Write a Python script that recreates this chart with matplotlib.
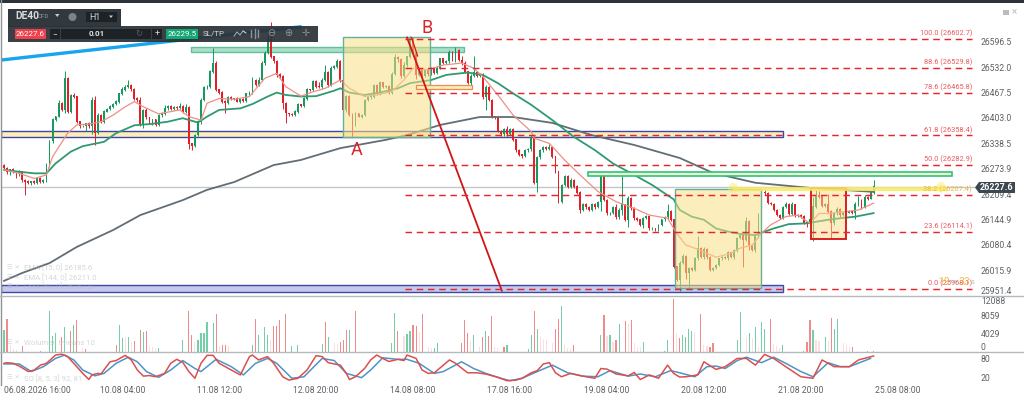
import numpy as np
import matplotlib
matplotlib.use("Agg")
import matplotlib.pyplot as plt
from matplotlib.patches import Rectangle, Circle, Polygon

plt.rcParams["font.family"] = ["Roboto", "DejaVu Sans"]

# hourly closes
closes = [
    26275,26266,26271,26266,26262,26266,26245,26241,26237,26241,26238,26249,26241,26245,26283,26343,26398,26406,26440,26423,
    26502,26419,26461,26457,26393,26381,26382,26389,26381,26448,26364,26410,26393,26419,26425,26431,26438,26444,26464,26474,
    26481,26486,26475,26452,26448,26385,26423,26404,26391,26398,26385,26410,26413,26427,26431,26425,26430,26427,26433,26419,
    26430,26337,26332,26359,26393,26448,26481,26481,26520,26542,26474,26467,26444,26440,26455,26450,26452,26444,26450,26446,
    26464,26467,26498,26486,26499,26542,26567,26605,26558,26546,26512,26508,26440,26414,26412,26410,26419,26436,26433,26452,
    26475,26474,26495,26482,26481,26499,26518,26486,26529,26533,26546,26499,26423,26457,26410,26385,26414,26406,26410,26448,
    26455,26457,26486,26465,26492,26481,26484,26467,26514,26557,26552,26508,26537,26558,26605,26567,26512,26525,26509,26523,
    26514,26529,26518,26529,26553,26543,26546,26569,26548,26574,26550,26542,26520,26491,26509,26518,26509,26514,26457,26481,
    26448,26406,26404,26368,26361,26374,26362,26374,26347,26321,26309,26306,26320,26323,26354,26238,26303,26320,26328,26323,
    26328,26304,26266,26190,26232,26254,26228,26245,26228,26213,26169,26184,26176,26169,26184,26176,26188,26254,26194,26161,
    26161,26176,26150,26169,26182,26144,26199,26173,26148,26144,26131,26148,26152,26122,26122,26118,26131,26145,26150,26165,
    26144,26025,25991,26034,26052,26008,26021,26017,26046,26072,26050,26069,26049,26017,26021,26029,26046,26049,26046,26061,
    26049,26066,26097,26105,26093,26139,26080,26067,26103,26144,26213,26211,26186,26184,26169,26156,26149,26176,26184,26158,
    26182,26154,26156,26152,26137,26133,26144,26177,26207,26203,26179,26184,26165,26135,26160,26171,26156,26162,26162,26165,
    26162,26182,26194,26175,26201,26198,26213,26227.6]
wick_up = [
    3,4,2,5,3,4,2,3,4,2,3,2,4,3,4,3,5,2,8,3,
    19,4,3,6,2,3,4,2,3,8,10,4,3,3,2,5,3,4,3,6,
    5,12,3,4,3,8,3,4,2,3,2,3,4,8,5,4,3,2,8,2,
    9,3,2,3,4,6,3,5,4,38,4,2,5,3,3,4,2,3,2,4,
    3,5,8,3,8,5,6,8,42,3,4,6,3,2,2,3,4,5,3,3,
    4,2,5,3,12,5,20,4,5,3,6,4,5,4,3,5,3,2,3,4,
    3,2,4,2,5,2,3,3,6,8,3,4,8,3,6,3,5,4,3,4,
    3,2,4,5,3,2,3,6,4,8,3,9,4,3,5,42,3,4,3,5,
    3,4,2,3,5,4,8,3,2,3,2,2,3,3,6,4,3,5,3,4,
    8,3,3,2,4,5,3,4,2,4,3,3,2,4,3,3,4,5,3,2,
    4,2,8,4,72,3,6,3,3,2,3,2,4,3,3,2,3,2,3,18,
    4,3,2,6,4,3,3,4,3,30,4,6,3,3,2,3,2,4,3,3,
    2,4,3,4,3,12,4,3,6,16,4,8,3,3,2,2,3,4,6,3,
    8,2,3,2,3,2,4,25,12,10,3,2,25,3,4,5,3,2,2,3,
    3,8,10,3,6,4,3,17]
wick_dn = [
    4,5,8,3,12,6,4,34,3,5,4,2,3,3,4,5,3,3,2,3,
    8,3,4,3,3,5,2,12,3,20,30,3,2,3,2,3,4,2,3,2,
    3,2,4,3,5,3,8,4,3,6,2,3,4,2,3,2,3,4,2,3,
    4,12,12,3,3,5,3,4,3,3,4,3,3,25,3,2,3,2,3,3,
    2,4,3,3,2,3,5,3,4,3,5,4,15,25,4,3,2,5,3,3,
    3,4,3,4,3,4,3,5,3,2,3,4,6,5,3,30,3,2,3,3,
    2,3,3,4,3,2,3,4,3,3,8,3,2,4,3,3,10,3,4,3,
    5,3,4,3,2,3,3,4,2,3,3,4,3,3,10,3,2,3,5,34,
    3,3,4,2,3,3,4,2,3,4,3,4,3,3,4,3,23,4,3,3,
    3,3,4,3,3,2,3,3,3,4,8,3,4,3,3,4,2,22,3,4,
    5,3,4,3,13,3,18,3,5,3,3,8,3,4,3,2,3,2,3,4,
    3,4,3,28,3,15,38,3,4,3,3,5,4,3,3,2,3,3,2,3,
    3,4,3,3,68,3,12,3,4,5,6,4,3,3,2,3,3,4,3,3,
    2,3,4,3,3,8,3,55,3,3,2,3,3,38,3,3,4,3,2,2,
    3,15,3,3,2,3,2,3]
first_open = 26283

# moving averages, (bar, price)
ema15_bars = [0,5,10,14,16,21,24,28,32,36,40,43,46,51,58,61,65,67,71,76,81,86,90,93,98,102,106,111,114,119,123,128,132,135,140,145,151,155,158,163,168,174,175,180,185,189,196,202,208,213,219,222,225,228,232,235,240,243,247,250,253,258,262,266,269,272,278,282,287]
ema15_vals = [26271,26262,26249,26258,26304,26364,26385,26387,26393,26410,26431,26444,26431,26413,26423,26406,26397,26440,26452,26450,26457,26503,26516,26482,26458,26469,26478,26499,26478,26457,26461,26470,26499,26529,26525,26537,26542,26529,26508,26461,26410,26368,26351,26338,26296,26266,26216,26190,26173,26156,26148,26110,26080,26072,26059,26049,26059,26072,26080,26110,26131,26152,26156,26135,26160,26160,26165,26169,26186]
ema50_bars = [0,5,10,14,17,22,26,33,37,43,48,54,59,64,67,71,78,82,87,90,93,98,103,109,111,114,119,124,130,134,141,146,153,158,163,168,174,181,188,195,201,208,214,221,223,227,231,235,239,243,248,251,254,259,265,268,272,276,281,287]
ema50_vals = [26271,26266,26262,26262,26287,26317,26331,26342,26364,26384,26387,26393,26402,26391,26406,26423,26427,26438,26457,26467,26461,26457,26458,26472,26478,26467,26461,26467,26478,26491,26499,26512,26518,26512,26491,26465,26436,26397,26355,26321,26287,26258,26232,26196,26169,26152,26144,26122,26114,26108,26105,26114,26122,26133,26135,26139,26144,26148,26152,26161]
ema144_bars = [0,6,15,24,36,45,59,67,76,89,98,111,126,133,144,157,168,181,194,208,223,234,248,266,287]
ema144_vals = [25989,26009,26034,26075,26118,26156,26194,26220,26240,26283,26296,26326,26347,26359,26385,26405,26405,26390,26359,26334,26301,26263,26238,26225,26215]

# volume
vol_up_bars = [0,15,16,17,20,23,38,39,41,46,51,59,64,65,66,67,69,82,84,86,87,95,97,105,107,114,128,129,133,134,142,143,155,159,166,173,174,176,184,197,200,203,211,219,224,225,226,227,242,243,246,248,250,251,257,264,267,271,274,275,285,287]
vol_up = [4844,9028,3523,4110,5578,5945,5872,3083,3376,4477,954,2642,2642,4110,4110,6679,6312,1541,3743,5432,3743,1321,1541,1762,3230,4844,2055,8514,3890,4624,807,1908,3743,4624,1615,587,3743,5065,10129,3670,3670,6166,2275,2642,3743,3376,4991,4698,2642,8881,4110,5578,6606,5138,1615,294,4844,3376,4991,7266,147,147]
vol_down_bars = [1,6,12,19,22,24,27,37,43,45,47,61,62,70,72,73,83,89,90,91,93,106,111,112,113,116,130,135,136,138,151,152,153,158,160,161,165,175,182,183,188,198,202,205,207,218,221,223,230,233,234,253,265,266,273,280]
vol_down = [7266,1321,294,3376,4624,7046,661,1541,2422,4771,4624,9028,3743,8294,1541,1541,7266,5725,5725,7046,8441,6679,2129,2642,4844,9028,4624,5945,5725,8294,1908,7046,4110,3303,3523,7927,1028,9028,5065,7266,1468,8074,2642,6826,7120,294,11597,3009,8368,1174,1908,7266,2202,7046,7413,1028]
vol_pale_bars = [2,3,4,26,40,42,48,49,50,63,71,74,88,109,110,132,137,140,141,154,157,162,163,177,178,179,181,185,186,187,199,201,206,208,209,210,222,228,231,232,245,247,249,254,255,256,268,269,272,277,278,279]
vol_pale = [1541,587,440,807,3376,2275,1321,1028,807,2275,1321,1321,2642,2055,1762,3523,4477,1174,807,2496,1174,1174,954,3376,2789,2642,2055,1468,954,587,3597,2275,6166,2055,1174,1028,4110,4331,1541,1321,3376,3009,1174,1762,1321,954,2642,2496,2496,2055,1541,1174]

# stochastic
so_fast_bars = [0,1,3,5,8,10,12,14,17,19,21,23,26,28,29,31,32,35,37,40,42,44,46,48,50,53,55,57,59,61,63,65,67,69,71,75,78,81,82,84,87,89,92,94,97,100,103,105,107,109,111,113,114,116,119,121,123,125,127,130,132,133,136,138,140,142,145,147,149,153,156,159,163,166,169,171,174,176,178,180,182,184,187,191,195,197,199,202,206,208,210,213,216,219,221,223,225,229,231,235,238,242,245,248,251,254,258,263,267,270,274,277,279,282,287]
so_fast = [65,67,65,56,38,43,59,65,92,95,87,65,32,12,27,32,30,70,74,91,76,43,23,25,21,32,65,78,68,38,16,65,91,91,65,43,27,87,92,76,87,65,21,10,16,43,90,87,67,63,59,32,12,21,48,76,92,81,71,78,74,92,81,43,32,34,59,76,65,34,34,30,19,8,10,16,34,41,63,67,34,21,32,23,16,48,46,30,24,35,12,27,16,59,32,20,21,27,70,45,54,81,81,59,94,81,54,21,16,76,54,54,54,76,89]
so_slow_bars = [0,5,9,13,17,20,23,26,30,33,37,41,44,47,51,55,59,63,65,70,75,79,83,87,90,95,99,105,109,113,118,121,125,130,133,137,142,145,151,155,159,164,167,171,176,181,186,191,196,200,206,210,215,220,223,228,232,235,238,242,245,250,254,258,263,267,272,276,279,286]
so_slow = [63,63,38,54,81,92,76,43,24,32,65,85,70,38,19,43,74,48,38,78,54,27,65,81,65,16,21,81,74,32,18,43,83,78,78,65,32,38,70,48,32,16,8,16,38,59,34,23,21,41,23,30,21,41,34,21,54,56,48,74,85,67,85,65,38,21,67,54,54,81]

# drawings on the chart
fib_prices = [26602.7, 26529.8, 26465.8, 26358.4, 26282.9, 26207.4, 26114.1, 25968.1]
fib_labels = ["100.0 (26602.7)", "88.6 (26529.8)", "78.6 (26465.8)", "61.8 (26358.4)", "50.0 (26282.9)", "38.2 (26207.4)", "23.6 (26114.1)", "0.0 (25968.1)"]
current_price = 26227.6

price_ticks = [26596.5, 26532.0, 26467.5, 26403.0, 26338.5, 26273.9, 26209.4, 26144.9, 26080.4, 26015.9, 25951.4]
vol_ticks = [4029, 8059, 12088]
so_ticks = [20, 80]
time_ticks = [0, 39, 71, 103, 135, 167, 199, 231, 263, 295]
time_labels = ["06.08.2026 16:00", "10.08 04:00", "11.08 12:00", "12.08 20:00", "14.08 08:00", "17.08 16:00", "19.08 04:00", "20.08 12:00", "21.08 20:00", "25.08 08:00"]

W, H = 1024, 404
GREEN, RED = "#16995f", "#e2202a"
TXT = "#5c6166"
FAINT = "#b5b8bb"


def PaneAxes(fig_, top_, bottom_, left_=1, right_=976):
    return fig_.add_axes([left_ / W, 1 - bottom_ / H, (right_ - left_) / W, (bottom_ - top_) / H])


def AddZone(ax_, x0_, x1_, p0_, p1_, face_, edge_, lw_=1.0, alpha_=1.0, z_=3):
    ax_.add_patch(Rectangle((x0_, p0_), x1_ - x0_, p1_ - p0_, facecolor=matplotlib.colors.to_rgba(face_, alpha_), edgecolor=edge_, linewidth=lw_, zorder=z_, clip_on=True))


def AddFaintLabel(ax_, x_, y_, text_):
    ax_.text(x_ - 5.5, y_, "\u2630 \u2715", color=FAINT, fontsize=4.6, alpha=0.55, va="center", zorder=6)
    ax_.text(x_, y_, text_, color=FAINT, fontsize=5.6, alpha=0.55, va="center", zorder=6)


fig = plt.figure(figsize=(W / 100, H / 100), dpi=100, facecolor="white")
ax = PaneAxes(fig, 4, 296)
ax_vol = PaneAxes(fig, 296, 352)
ax_so = PaneAxes(fig, 352, 385)

bars = np.arange(len(closes))
closes_arr = np.array(closes, dtype=float)
opens = np.r_[first_open, closes_arr[:-1]]
highs = np.maximum(opens, closes_arr) + np.array(wick_up)
lows = np.minimum(opens, closes_arr) - np.array(wick_dn)
up = closes_arr >= opens
colors = np.where(up, GREEN, RED)

ax.vlines(bars, lows, highs, colors=colors, linewidth=0.7, zorder=2)
ax.bar(bars, np.abs(closes_arr - opens) + 1, bottom=np.minimum(opens, closes_arr), width=0.62, color=colors, linewidth=0, zorder=2)

ax.plot(ema144_bars, ema144_vals, color="#626d75", lw=1.3, zorder=2.5)
ax.plot(ema50_bars, ema50_vals, color="#2f9a70", lw=1.3, zorder=2.5)
ax.plot(ema15_bars, ema15_vals, color="#ee8f84", lw=0.9, zorder=2.5)

xl = (-1.0, 320.8)
ax.set_xlim(xl)
ax.set_ylim(25950.5, 26692)

# zones
AddZone(ax, xl[0], 257, 26354, 26370, "#fdeeb5", "#3f45b0", 1.0, z_=1.5)
AddZone(ax, xl[0], 257, 25960, 25978.5, "#c5caec", "#3f48a8", 1.0, z_=1.5)
AddZone(ax, 61.6, 151.8, 26571, 26583, "#a9dfc8", "#63c09c", 1.0, z_=1.6)
AddZone(ax, 192.7, 313, 26255, 26265.5, "#eef7cf", "#2ec27e", 1.2, z_=3)
AddZone(ax, 112, 140.6, 26355, 26607, "#fbdf86", "#62b299", 1.0, 0.55)
AddZone(ax, 221.5, 250, 25971, 26221.6, "#fbdf86", "#62b299", 1.0, 0.55)
AddZone(ax, 266.2, 277.8, 26094.6, 26225, "#fbdf86", "#d91f1f", 1.4, 0.5)
AddZone(ax, 135.9, 154.4, 26477, 26486.5, "#fdeeb5", "#ef8a5a", 0.9)

ax.axhline(current_price, color="#c3c7ca", lw=1.0, zorder=1)
ax.plot([240.6, 311.2], [26222, 26222], color="#f8ea62", lw=3, alpha=0.85, zorder=3, solid_capstyle="butt")

# trend lines
ax.plot([-0.66, 97.7], [26550, 26634], color="#17a6ee", lw=2.4, zorder=1.8)
ax.plot([133, 164.3], [26607, 25964], color="#cf1518", lw=1.3, zorder=4)
ax.plot([134.5, 136.5], [26607, 26560], color="#cf1518", lw=0.9, zorder=4)

for p, lab in zip(fib_prices, fib_labels):
    ax.plot([132.5, 319.5], [p, p], color="#e2272e", lw=1.05, dashes=(4.5, 3.2), zorder=4)
    lab_color = "#f0b43c" if lab.startswith("38.2") else "#ea5a60"
    ax.text(319.5, p + 3.5, lab, color=lab_color, fontsize=5.3, ha="right", va="bottom", zorder=5)

ax.text(116.5, 26320, "A", color="#d8262b", fontsize=13, ha="center", va="center", zorder=6)
ax.text(139.5, 26630, "B", color="#d8262b", fontsize=13, ha="center", va="center", zorder=6)

ax.text(308.2, 25986, "19", color="#f5a623", fontsize=7.5, ha="left", va="center", zorder=6, alpha=0.8)
ax.text(312.0, 25985, "m", color="#b8bcc0", fontsize=5.5, ha="left", va="center", zorder=6)
ax.text(315.0, 25986, "33", color="#f5a623", fontsize=7.5, ha="left", va="center", zorder=6, alpha=0.8)
ax.text(319.0, 25985, "s", color="#b8bcc0", fontsize=5.5, ha="left", va="center", zorder=6)

for txt, p in [("EMA [15, 0] 26185.6", 26022), ("EMA [144, 0] 26211.0", 25997), ("EMA [50, 0] 26161.8", 25974)]:
    AddFaintLabel(ax, 6.5, p, txt)

ax_vol.bar(vol_pale_bars, vol_pale, width=0.38, color="#fbdde3", linewidth=0)
ax_vol.bar(vol_up_bars, vol_up, width=0.38, color="#74cfa9", linewidth=0)
ax_vol.bar(vol_down_bars, vol_down, width=0.38, color="#f18b8b", linewidth=0)
ax_vol.set_xlim(xl)
ax_vol.set_ylim(0, 12300)
AddFaintLabel(ax_vol, 6.5, 2000, "Wolumen tmeans 10")

ax_so.plot(so_slow_bars, so_slow, color="#4f93c9", lw=1.1)
ax_so.plot(so_fast_bars, so_fast, color="#d9504d", lw=1.1)
ax_so.set_xlim(xl)
ax_so.set_ylim(-6, 102)
AddFaintLabel(ax_so, 6.5, 17, "SO [8, 5, 3] 92, 81")

for a in (ax, ax_vol, ax_so):
    for s in a.spines.values():
        s.set_visible(False)
    a.yaxis.tick_right()
    a.patch.set_alpha(0)
    a.tick_params(length=0, labelsize=6.2, labelcolor=TXT, pad=3.5)
    a.set_xticks([])

ax.set_yticks(price_ticks, ["%.1f" % t for t in price_ticks])
ax.get_yticklabels()[-1].set_va("bottom")
ax_vol.set_yticks(vol_ticks, [str(t) for t in vol_ticks])
ax_vol.get_yticklabels()[-1].set_va("top")
ax_so.set_yticks(so_ticks, [str(t) for t in so_ticks])
ax_so.set_xticks(time_ticks, time_labels)
ax_so.get_xticklabels()[0].set_ha("left")
ax_so.tick_params(axis="x", pad=1, labelsize=6.2)

# screen furniture, in pixels
ui = fig.add_axes([0, 0, 1, 1], zorder=10)
ui.set_xlim(0, W)
ui.set_ylim(H, 0)
ui.axis("off")
ui.patch.set_alpha(0)
ui.add_patch(Rectangle((0, 0), W, 2.5, color="#2d3338", lw=0))
ui.plot([1, 1], [0, 385], color="#8e9498", lw=1)
ui.plot([0, W], [296, 296], color="#b4b8bb", lw=1)
ui.plot([0, W], [352, 352], color="#b4b8bb", lw=1)
ui.text(980.5, 348, "0", color=TXT, fontsize=6.2, va="center")

ui.add_patch(Polygon([(975, 187.5), (979, 182), (1015, 182), (1015, 193), (979, 193)], color="#3c4850", lw=0))
ui.text(997, 187.5, "26227.6", color="white", fontsize=6.5, fontweight="bold", ha="center", va="center")
ui.add_patch(Rectangle((1003, 10), 5.5, 5, color="#b8bcc0", lw=0))
ui.text(1014, 12.5, "\u00d7", color="#b8bcc0", fontsize=7, ha="center", va="center")
ui.add_patch(Circle((733, 188), 5, color="#f8ea62", alpha=0.45, lw=0))
ui.add_patch(Circle((941, 187), 5, color="#f8ea62", alpha=0.45, lw=0))

BAR = "#2b3238"
ui.add_patch(Rectangle((8, 9), 113, 18, color=BAR, alpha=0.97, lw=0))
ui.add_patch(Rectangle((8, 26), 310, 16, color=BAR, alpha=0.93, lw=0))
ui.text(15, 16, "DE40", color="#d8dbdd", fontsize=7.4, fontweight="bold", va="center")
ui.text(38, 16.5, "CFD", color="#8f969b", fontsize=4.5, va="center")
ui.add_patch(Polygon([(55, 14), (59.5, 14), (57.2, 17)], color="#c8ccce", lw=0))
ui.add_patch(Circle((72.5, 17), 4, color="#7d8488", lw=0))
ui.add_patch(Rectangle((86, 12), 31, 10, color="#1d2226", lw=0))
ui.text(89, 17, "H1", color="#d8dbdd", fontsize=6.4, va="center")
ui.add_patch(Polygon([(109, 15.5), (113, 15.5), (111, 18)], color="#c8ccce", lw=0))
ui.add_patch(Rectangle((15, 29), 31, 10, color="#f0404c", lw=0))
ui.text(30.5, 34, "26227.6", color="white", fontsize=5.7, ha="center", va="center")
ui.add_patch(Rectangle((50, 29), 10, 10, color="#1d2226", lw=0))
ui.text(55, 34, "\u2212", color="#d8dbdd", fontsize=6, ha="center", va="center")
ui.add_patch(Rectangle((61, 29), 90, 10, color="#1d2226", lw=0))
ui.text(96.5, 34, "0.01", color="#e4e6e8", fontsize=5.8, fontweight="bold", ha="center", va="center")
ui.text(139, 34, "\u21bb", color="#565d62", fontsize=6, ha="center", va="center")
ui.add_patch(Rectangle((152, 29), 10, 10, color="#1d2226", lw=0))
ui.text(157, 34, "+", color="#d8dbdd", fontsize=6.5, ha="center", va="center")
ui.add_patch(Rectangle((166, 29), 32, 10, color="#14a873", lw=0))
ui.text(182, 34, "26229.5", color="white", fontsize=5.7, ha="center", va="center")
ui.text(214, 34, "SL/TP", color="#d0d3d5", fontsize=5.8, ha="center", va="center")
ui.plot([234, 237, 240, 243, 246, 243], [36, 32, 35, 31, 33, 31], color="#aab0b4", lw=0.7)
ui.plot([251, 251], [30, 37], color="#8d9499", lw=1)
ui.plot([254.5, 254.5], [29, 38], color="#8d9499", lw=1)
ui.plot([258, 258], [30, 37], color="#8d9499", lw=1)
ui.text(271, 33, "\u2296", color="#8d9499", fontsize=7, ha="center", va="center")
ui.text(288, 33, "\u2295", color="#8d9499", fontsize=7, ha="center", va="center")
ui.text(306, 33.5, "\u271b", color="#8d9499", fontsize=7, ha="center", va="center")

fig.savefig("out.png", dpi=100)
